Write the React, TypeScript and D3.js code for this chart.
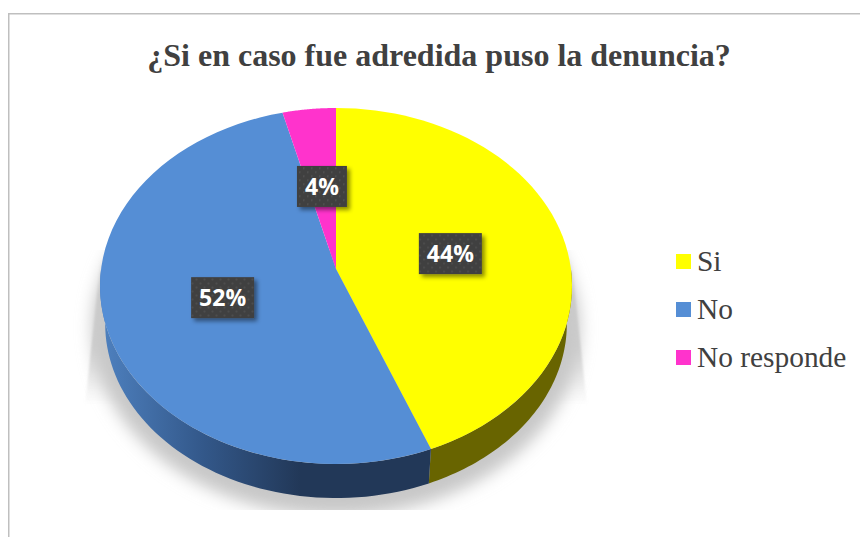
import React from "react";
import * as d3 from "d3";

const titleText = "¿Si en caso fue adredida puso la denuncia?";
const categories = ["Si", "No", "No responde"];
const values = [44, 52, 4];
const colors = ["#ffff00", "#558ed5", "#ff33cc"];
const wallColors = ["#686400", "url(#blueWall)", "#8a1c6e"];

const width = 860;
const height = 537;

// top face of the pie, seen in perspective
const cx = 336;
const cy = 286;
const rx = 236;
const ry = 178;
const tilt = -0.0955; // moves the apex above the centre of the ellipse

// bottom rim of the pie
const rimCy = 324;
const rimScale = 0.978;

const project = (angle: number, r = 1): [number, number] => {
  const u = r * Math.sin(angle);
  const v = -r * Math.cos(angle);
  const d = 1 + tilt * v;
  return [
    cx + (rx * u * Math.sqrt(1 - tilt * tilt)) / d,
    cy + (ry * (v + tilt)) / d,
  ];
};

const projectRim = (angle: number): [number, number] => {
  const [x, y] = project(angle);
  return [cx + (x - cx) * rimScale, rimCy + (y - cy) * rimScale];
};

const sweep = (a0: number, a1: number) =>
  d3.range(0, 61).map((i) => a0 + ((a1 - a0) * i) / 60);

const line = d3.line();

export default function App() {
  const slices = d3
    .pie<number>()
    .sort(null)
    .value((d) => d)(values);

  const legendY = d3
    .scalePoint<string>()
    .domain(categories)
    .range([261.5, 357.5]);

  return (
    <svg
      width={width}
      height={height}
      style={{ position: "absolute", left: 0, top: 0, background: "#fff" }}
    >
      <defs>
        <linearGradient id="blueWall" gradientUnits="userSpaceOnUse" x1={105} x2={300} y1={0} y2={0}>
          <stop offset="0" stopColor="#4d7fbd" />
          <stop offset="0.5" stopColor="#33588a" />
          <stop offset="1" stopColor="#223858" />
        </linearGradient>
        <linearGradient id="sideFade" x1={0} x2={0} y1={0} y2={1}>
          <stop offset="0" stopColor="#d2d2d2" stopOpacity="0" />
          <stop offset="0.25" stopColor="#d2d2d2" />
          <stop offset="0.6" stopColor="#d2d2d2" />
          <stop offset="1" stopColor="#d2d2d2" stopOpacity="0" />
        </linearGradient>
        <filter id="blur" x="-20%" y="-20%" width="140%" height="140%">
          <feGaussianBlur stdDeviation="8" />
        </filter>
        <filter id="softEdge" x="-5%" y="-5%" width="110%" height="110%">
          <feGaussianBlur stdDeviation="1.2" />
        </filter>
        <filter id="boxShadow" x="-30%" y="-30%" width="170%" height="170%">
          <feDropShadow dx="3" dy="3" stdDeviation="2.2" floodColor="#000" floodOpacity="0.45" />
        </filter>
        <pattern id="dots" patternUnits="userSpaceOnUse" width="8" height="8">
          <rect width="8" height="8" fill="#404040" />
          <rect x="1" y="1" width="1.5" height="1.5" fill="#555" />
          <rect x="5" y="5" width="1.5" height="1.5" fill="#555" />
        </pattern>
        <clipPath id="shadowClip">
          <rect x={0} y={250} width={width} height={260} />
        </clipPath>
      </defs>

      {/* chart frame */}
      <path d={`M8.75,${height}V13.75H${width}`} fill="none" stroke="#bfbfbf" strokeWidth={1.5} />

      <text
        x={439}
        y={66}
        textAnchor="middle"
        fontFamily="'Liberation Serif', serif"
        fontWeight="bold"
        fontSize={32}
        fill="#404040"
      >
        {titleText}
      </text>

      {/* shadow under the pie */}
      <g clipPath="url(#shadowClip)">
        <path
          d={line([
            [cx - rx + 1, 258],
            [cx + rx - 1, 258],
            [cx + rx + 15, 405],
            [cx - rx - 15, 405],
          ]) + "Z"}
          fill="url(#sideFade)"
          filter="url(#softEdge)"
        />
        <ellipse
          cx={cx}
          cy={rimCy + 4}
          rx={rx + 8}
          ry={ry + 10}
          fill="#c8c8c8"
          filter="url(#blur)"
        />
      </g>

      {/* side wall */}
      {slices.map((s, i) => {
        const a0 = Math.max(s.startAngle, Math.PI / 2);
        const a1 = Math.min(s.endAngle, (3 * Math.PI) / 2);
        if (a1 <= a0) return null;
        const pts = sweep(a0, a1);
        const outline = [...pts.map((a) => project(a)), ...pts.reverse().map(projectRim)];
        return <path key={categories[i]} d={line(outline) + "Z"} fill={wallColors[i]} />;
      })}

      {/* top face */}
      {slices.map((s, i) => (
        <path
          key={categories[i]}
          d={line([[...project(0, 0)] as [number, number], ...sweep(s.startAngle, s.endAngle).map((a) => project(a))]) + "Z"}
          fill={colors[i]}
        />
      ))}

      {/* value labels */}
      {slices.map((s, i) => {
        const [x, y] = project((s.startAngle + s.endAngle) / 2, 0.5);
        const label = `${values[i]}%`;
        const w = 50 + (label.length - 2) * 13;
        return (
          <g key={categories[i]} transform={`translate(${x},${y + 1})`}>
            <rect
              x={-w / 2}
              y={-20.5}
              width={w}
              height={41}
              fill="url(#dots)"
              filter="url(#boxShadow)"
            />
            <text
              textAnchor="middle"
              y={8.5}
              fontFamily="'Open Sans', sans-serif"
              fontWeight="bold"
              fontSize={23}
              fill="#fff"
            >
              {label}
            </text>
          </g>
        );
      })}

      {/* legend */}
      {categories.map((c, i) => (
        <g key={c} transform={`translate(676,${legendY(c)})`}>
          <rect y={-7.5} width={15} height={15} fill={colors[i]} />
          <text
            x={21}
            y={9}
            fontFamily="'Liberation Serif', serif"
            fontSize={29.4}
            fill="#404040"
          >
            {c}
          </text>
        </g>
      ))}
    </svg>
  );
}
